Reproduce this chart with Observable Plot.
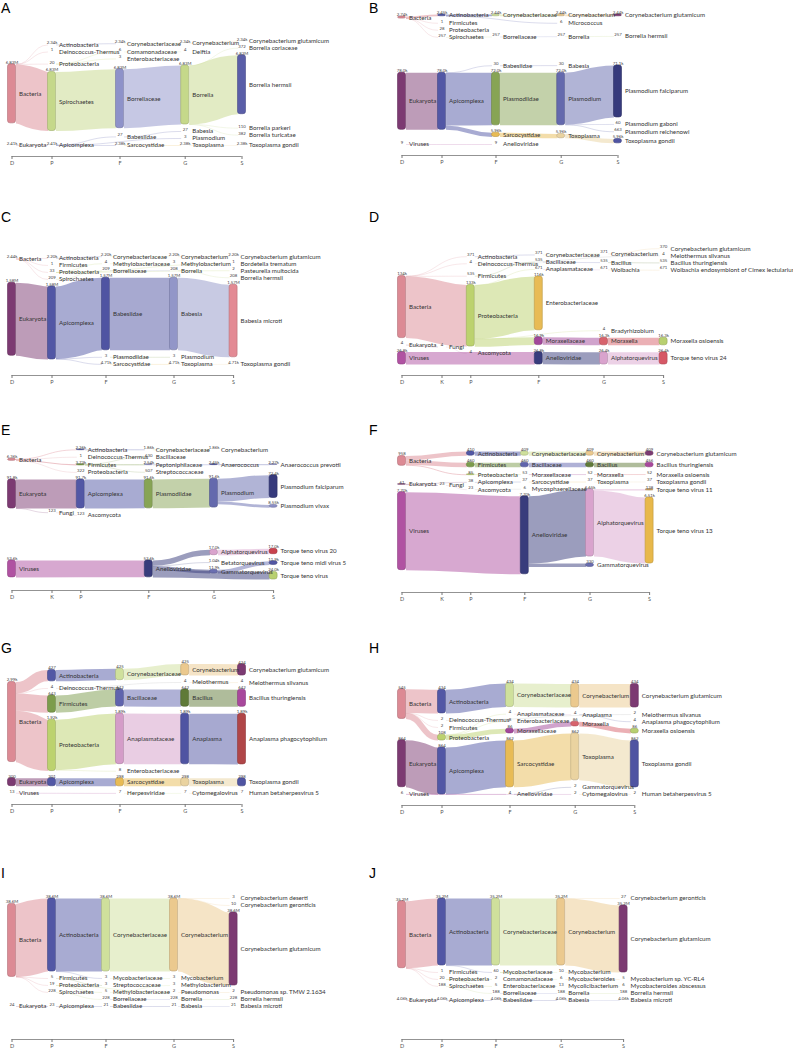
<!DOCTYPE html>
<html><head><meta charset="utf-8">
<script src="https://cdn.jsdelivr.net/npm/d3@7"></script>
<script src="https://cdn.jsdelivr.net/npm/@observablehq/plot@0.6"></script>
<style>
body{margin:0;background:#fff;}
#page{position:relative;width:793px;height:1049px;overflow:hidden;}
.letter{position:absolute;font-family:"Liberation Sans",Arial,sans-serif;font-size:14px;line-height:14px;color:#000;}
.panel{position:absolute;}
</style></head><body><div id="page"></div>
<script>
// ---------- DATA: [name, rank, reads, parent] ----------
const ranks5 = ["D","P","F","G","S"];
const ranks6 = ["D","K","P","F","G","S"];

const panelA = [
 ["Bacteria","D",6830000,null],["Eukaryota","D",2410,null],
 ["Actinobacteria","P",2340,"Bacteria"],["Deinococcus-Thermus","P",1,"Bacteria"],["Proteobacteria","P",20,"Bacteria"],["Spirochaetes","P",6830000,"Bacteria"],["Apicomplexa","P",2410,"Eukaryota"],
 ["Corynebacteriaceae","F",2340,"Actinobacteria"],["Comamonadaceae","F",6,"Proteobacteria"],["Enterobacteriaceae","F",3,"Proteobacteria"],["Borreliaceae","F",6830000,"Spirochaetes"],["Babesiidae","F",27,"Apicomplexa"],["Sarcocystidae","F",2380,"Apicomplexa"],
 ["Corynebacterium","G",2340,"Corynebacteriaceae"],["Delftia","G",4,"Comamonadaceae"],["Borrelia","G",6830000,"Borreliaceae"],["Babesia","G",27,"Babesiidae"],["Plasmodium","G",3,"Apicomplexa"],["Toxoplasma","G",2380,"Sarcocystidae"],
 ["Corynebacterium glutamicum","S",2340,"Corynebacterium"],["Borrelia coriaceae","S",372,"Borrelia"],["Borrelia hermsii","S",6830000,"Borrelia"],["Borrelia parkeri","S",110,"Borrelia"],["Borrelia turicatae","S",382,"Borrelia"],["Toxoplasma gondii","S",2380,"Toxoplasma"]
];
const panelB = [
 ["Bacteria","D",2740,null],["Eukaryota","D",78000,null],["Viruses","D",9,null],
 ["Actinobacteria","P",2450,"Bacteria"],["Firmicutes","P",1,"Bacteria"],["Proteobacteria","P",28,"Bacteria"],["Spirochaetes","P",257,"Bacteria"],["Apicomplexa","P",78000,"Eukaryota"],
 ["Corynebacteriaceae","F",2440,"Actinobacteria"],["Borreliaceae","F",257,"Spirochaetes"],["Babesiidae","F",30,"Apicomplexa"],["Plasmodiidae","F",72000,"Apicomplexa"],["Sarcocystidae","F",5960,"Apicomplexa"],["Anelloviridae","F",9,"Viruses"],
 ["Corynebacterium","G",2440,"Corynebacteriaceae"],["Micrococcus","G",6,"Actinobacteria"],["Borrelia","G",257,"Borreliaceae"],["Babesia","G",30,"Babesiidae"],["Plasmodium","G",72000,"Plasmodiidae"],["Toxoplasma","G",5960,"Sarcocystidae"],
 ["Corynebacterium glutamicum","S",2440,"Corynebacterium"],["Borrelia hermsii","S",257,"Borrelia"],["Plasmodium falciparum","S",71100,"Plasmodium"],["Plasmodium gaboni","S",60,"Plasmodium"],["Plasmodium reichenowi","S",663,"Plasmodium"],["Toxoplasma gondii","S",5960,"Toxoplasma"]
];
const panelC = [
 ["Bacteria","D",2440,null],["Eukaryota","D",1580000,null],
 ["Actinobacteria","P",2200,"Bacteria"],["Firmicutes","P",1,"Bacteria"],["Proteobacteria","P",33,"Bacteria"],["Spirochaetes","P",209,"Bacteria"],["Apicomplexa","P",1580000,"Eukaryota"],
 ["Corynebacteriaceae","F",2200,"Actinobacteria"],["Methylobacteriaceae","F",4,"Proteobacteria"],["Borreliaceae","F",209,"Spirochaetes"],["Babesiidae","F",1570000,"Apicomplexa"],["Plasmodiidae","F",3,"Apicomplexa"],["Sarcocystidae","F",4710,"Apicomplexa"],
 ["Corynebacterium","G",2200,"Corynebacteriaceae"],["Methylobacterium","G",3,"Methylobacteriaceae"],["Borrelia","G",208,"Borreliaceae"],["Babesia","G",1570000,"Babesiidae"],["Plasmodium","G",3,"Plasmodiidae"],["Toxoplasma","G",4710,"Sarcocystidae"],
 ["Corynebacterium glutamicum","S",2200,"Corynebacterium"],["Bordetella trematum","S",1,"Proteobacteria"],["Pasteurella multocida","S",2,"Proteobacteria"],["Borrelia hermsii","S",208,"Borrelia"],["Babesia microti","S",1570000,"Babesia"],["Toxoplasma gondii","S",4710,"Toxoplasma"]
];
const panelD = [
 ["Bacteria","D",134000,null],["Eukaryota","D",4,null],["Viruses","D",26800,null],
 ["Fungi","K",4,"Eukaryota"],
 ["Actinobacteria","P",371,"Bacteria"],["Deinococcus-Thermus","P",4,"Bacteria"],["Firmicutes","P",535,"Bacteria"],["Proteobacteria","P",133000,"Bacteria"],["Ascomycota","P",4,"Fungi"],
 ["Corynebacteriaceae","F",371,"Actinobacteria"],["Bacillaceae","F",535,"Firmicutes"],["Anaplasmataceae","F",671,"Proteobacteria"],["Enterobacteriaceae","F",116000,"Proteobacteria"],["Moraxellaceae","F",16900,"Proteobacteria"],["Anelloviridae","F",26800,"Viruses"],
 ["Corynebacterium","G",371,"Corynebacteriaceae"],["Bacillus","G",535,"Bacillaceae"],["Wolbachia","G",671,"Anaplasmataceae"],["Bradyrhizobium","G",4,"Proteobacteria"],["Moraxella","G",16300,"Moraxellaceae"],["Alphatorquevirus","G",26400,"Anelloviridae"],
 ["Corynebacterium glutamicum","S",370,"Corynebacterium"],["Meiothermus silvanus","S",4,"Deinococcus-Thermus"],["Bacillus thuringiensis","S",535,"Bacillus"],["Wolbachia endosymbiont of Cimex lectularius","S",671,"Wolbachia"],["Moraxella osloensis","S",16300,"Moraxella"],["Torque teno virus 24","S",26400,"Alphatorquevirus"]
];
const panelE = [
 ["Bacteria","D",6360,null],["Eukaryota","D",91800,null],["Viruses","D",53600,null],
 ["Fungi","K",123,"Eukaryota"],
 ["Actinobacteria","P",2260,"Bacteria"],["Deinococcus-Thermus","P",1,"Bacteria"],["Firmicutes","P",3730,"Bacteria"],["Proteobacteria","P",322,"Bacteria"],["Apicomplexa","P",91700,"Eukaryota"],["Ascomycota","P",123,"Fungi"],
 ["Corynebacteriaceae","F",1860,"Actinobacteria"],["Bacillaceae","F",630,"Firmicutes"],["Peptoniphilaceae","F",2540,"Firmicutes"],["Streptococcaceae","F",507,"Firmicutes"],["Plasmodiidae","F",91600,"Apicomplexa"],["Anelloviridae","F",53600,"Viruses"],
 ["Corynebacterium","G",1860,"Corynebacteriaceae"],["Anaerococcus","G",2450,"Peptoniphilaceae"],["Plasmodium","G",91600,"Plasmodiidae"],["Alphatorquevirus","G",17000,"Anelloviridae"],["Betatorquevirus","G",1040,"Anelloviridae"],["Gammatorquevirus","G",11900,"Anelloviridae"],
 ["Anaerococcus prevotii","S",2270,"Anaerococcus"],["Plasmodium falciparum","S",72400,"Plasmodium"],["Plasmodium vivax","S",8550,"Plasmodium"],["Torque teno virus 20","S",17000,"Alphatorquevirus"],["Torque teno midi virus 5","S",11900,"Gammatorquevirus"],["Torque teno virus","S",24000,"Anelloviridae"]
];
const panelF = [
 ["Bacteria","D",958,null],["Eukaryota","D",61,null],["Viruses","D",7700,null],
 ["Fungi","K",23,"Eukaryota"],
 ["Actinobacteria","P",410,"Bacteria"],["Firmicutes","P",460,"Bacteria"],["Proteobacteria","P",85,"Bacteria"],["Apicomplexa","P",38,"Eukaryota"],["Ascomycota","P",23,"Fungi"],
 ["Corynebacteriaceae","F",409,"Actinobacteria"],["Bacillaceae","F",460,"Firmicutes"],["Moraxellaceae","F",53,"Proteobacteria"],["Sarcocystidae","F",37,"Apicomplexa"],["Mycosphaerellaceae","F",6,"Ascomycota"],["Anelloviridae","F",7700,"Viruses"],
 ["Corynebacterium","G",409,"Corynebacteriaceae"],["Bacillus","G",460,"Bacillaceae"],["Moraxella","G",52,"Moraxellaceae"],["Toxoplasma","G",37,"Sarcocystidae"],["Alphatorquevirus","G",6650,"Anelloviridae"],["Gammatorquevirus","G",330,"Anelloviridae"],
 ["Corynebacterium glutamicum","S",409,"Corynebacterium"],["Bacillus thuringiensis","S",456,"Bacillus"],["Moraxella osloensis","S",52,"Moraxella"],["Toxoplasma gondii","S",37,"Toxoplasma"],["Torque teno virus 11","S",138,"Alphatorquevirus"],["Torque teno virus 13","S",6510,"Alphatorquevirus"]
];
const panelG = [
 ["Bacteria","D",2990,null],["Eukaryota","D",300,null],["Viruses","D",13,null],
 ["Actinobacteria","P",427,"Bacteria"],["Deinococcus-Thermus","P",4,"Bacteria"],["Firmicutes","P",643,"Bacteria"],["Proteobacteria","P",1920,"Bacteria"],["Apicomplexa","P",301,"Eukaryota"],
 ["Corynebacteriaceae","F",425,"Actinobacteria"],["Bacillaceae","F",642,"Firmicutes"],["Anaplasmataceae","F",1890,"Proteobacteria"],["Enterobacteriaceae","F",8,"Proteobacteria"],["Sarcocystidae","F",298,"Apicomplexa"],["Herpesviridae","F",7,"Viruses"],
 ["Corynebacterium","G",425,"Corynebacteriaceae"],["Meiothermus","G",4,"Deinococcus-Thermus"],["Bacillus","G",642,"Bacillaceae"],["Anaplasma","G",1890,"Anaplasmataceae"],["Toxoplasma","G",298,"Sarcocystidae"],["Cytomegalovirus","G",7,"Herpesviridae"],
 ["Corynebacterium glutamicum","S",424,"Corynebacterium"],["Meiothermus silvanus","S",4,"Meiothermus"],["Bacillus thuringiensis","S",642,"Bacillus"],["Anaplasma phagocytophilum","S",1890,"Anaplasma"],["Toxoplasma gondii","S",298,"Toxoplasma"],["Human betaherpesvirus 5","S",7,"Cytomegalovirus"]
];
const panelH = [
 ["Bacteria","D",545,null],["Eukaryota","D",864,null],["Viruses","D",6,null],
 ["Actinobacteria","P",434,"Bacteria"],["Deinococcus-Thermus","P",2,"Bacteria"],["Firmicutes","P",2,"Bacteria"],["Proteobacteria","P",108,"Bacteria"],["Apicomplexa","P",864,"Eukaryota"],
 ["Corynebacteriaceae","F",434,"Actinobacteria"],["Anaplasmataceae","F",4,"Proteobacteria"],["Enterobacteriaceae","F",8,"Proteobacteria"],["Moraxellaceae","F",86,"Proteobacteria"],["Sarcocystidae","F",862,"Apicomplexa"],["Anelloviridae","F",4,"Viruses"],
 ["Corynebacterium","G",434,"Corynebacteriaceae"],["Anaplasma","G",4,"Anaplasmataceae"],["Moraxella","G",86,"Moraxellaceae"],["Toxoplasma","G",862,"Sarcocystidae"],["Gammatorquevirus","G",2,"Anelloviridae"],["Cytomegalovirus","G",2,"Viruses"],
 ["Corynebacterium glutamicum","S",434,"Corynebacterium"],["Meiothermus silvanus","S",2,"Deinococcus-Thermus"],["Anaplasma phagocytophilum","S",4,"Anaplasma"],["Moraxella osloensis","S",86,"Moraxella"],["Toxoplasma gondii","S",862,"Toxoplasma"],["Human betaherpesvirus 5","S",2,"Cytomegalovirus"]
];
const panelI = [
 ["Bacteria","D",38600000,null],["Eukaryota","D",24,null],
 ["Actinobacteria","P",38600000,"Bacteria"],["Firmicutes","P",5,"Bacteria"],["Proteobacteria","P",19,"Bacteria"],["Spirochaetes","P",228,"Bacteria"],["Apicomplexa","P",23,"Eukaryota"],
 ["Corynebacteriaceae","F",38600000,"Actinobacteria"],["Mycobacteriaceae","F",3,"Actinobacteria"],["Streptococcaceae","F",3,"Firmicutes"],["Methylobacteriaceae","F",5,"Proteobacteria"],["Borreliaceae","F",228,"Spirochaetes"],["Babesiidae","F",21,"Apicomplexa"],
 ["Corynebacterium","G",38600000,"Corynebacteriaceae"],["Mycobacterium","G",3,"Mycobacteriaceae"],["Methylobacterium","G",3,"Methylobacteriaceae"],["Pseudomonas","G",2,"Proteobacteria"],["Borrelia","G",228,"Borreliaceae"],["Babesia","G",21,"Babesiidae"],
 ["Corynebacterium deserti","S",3,"Corynebacterium"],["Corynebacterium geronticis","S",10,"Corynebacterium"],["Corynebacterium glutamicum","S",38600000,"Corynebacterium"],["Pseudomonas sp. TMW 2.1634","S",2,"Pseudomonas"],["Borrelia hermsii","S",228,"Borrelia"],["Babesia microti","S",21,"Babesia"]
];
const panelJ = [
 ["Bacteria","D",35200000,null],["Eukaryota","D",4060,null],
 ["Actinobacteria","P",35200000,"Bacteria"],["Firmicutes","P",1,"Bacteria"],["Proteobacteria","P",20,"Bacteria"],["Spirochaetes","P",188,"Bacteria"],["Apicomplexa","P",4060,"Eukaryota"],
 ["Corynebacteriaceae","F",35200000,"Actinobacteria"],["Mycobacteriaceae","F",60,"Actinobacteria"],["Comamonadaceae","F",2,"Proteobacteria"],["Enterobacteriaceae","F",5,"Proteobacteria"],["Borreliaceae","F",188,"Spirochaetes"],["Babesiidae","F",4060,"Apicomplexa"],
 ["Corynebacterium","G",35200000,"Corynebacteriaceae"],["Mycobacterium","G",10,"Mycobacteriaceae"],["Mycobacteroides","G",6,"Mycobacteriaceae"],["Mycolicibacterium","G",13,"Mycobacteriaceae"],["Borrelia","G",188,"Borreliaceae"],["Babesia","G",4060,"Babesiidae"],
 ["Corynebacterium geronticis","S",27,"Corynebacterium"],["Corynebacterium glutamicum","S",35200000,"Corynebacterium"],["Mycobacterium sp. YC-RL4","S",5,"Mycobacterium"],["Mycobacteroides abscessus","S",6,"Mycobacteroides"],["Borrelia hermsii","S",188,"Borrelia"],["Babesia microti","S",4060,"Babesia"]
];

// ---------- STYLE ----------
const nodeColors = {
 "Bacteria":"#dc8a94","Eukaryota":"#7c3a72","Viruses":"#b052a2","Fungi":"#c9a0c0",
 "Actinobacteria":"#5257a5","Deinococcus-Thermus":"#a8a8a8","Firmicutes":"#7c9c4c","Proteobacteria":"#bcd26e","Spirochaetes":"#c5d88a","Apicomplexa":"#5257a5","Ascomycota":"#bbbbbb",
 "Corynebacteriaceae":"#cfe09c","Comamonadaceae":"#cfe09c","Enterobacteriaceae":"#e8bb55","Borreliaceae":"#8e92c9","Babesiidae":"#4f54a2","Sarcocystidae":"#e8bb55","Plasmodiidae":"#87a455","Anelloviridae":"#383c7c","Methylobacteriaceae":"#cfe09c","Bacillaceae":"#5f64ad","Anaplasmataceae":"#d49cc8","Moraxellaceae":"#a2479a","Peptoniphilaceae":"#8e92c9","Streptococcaceae":"#cfe09c","Mycosphaerellaceae":"#cfe09c","Herpesviridae":"#cfe09c","Mycobacteriaceae":"#cfe09c",
 "Corynebacterium":"#ebc98e","Delftia":"#ebc98e","Borrelia":"#c5d88a","Babesia":"#9296c8","Plasmodium":"#6469ad","Toxoplasma":"#ead3a0","Micrococcus":"#ebc98e","Methylobacterium":"#ebc98e","Bacillus":"#5f7a38","Wolbachia":"#ebc98e","Bradyrhizobium":"#ebc98e","Moraxella":"#d7626c","Alphatorquevirus":"#d9a3cd","Betatorquevirus":"#8e92c9","Gammatorquevirus":"#6a6eb0","Anaerococcus":"#4f54a2","Anaplasma":"#4f54a2","Meiothermus":"#ebc98e","Cytomegalovirus":"#ebc98e","Mycobacterium":"#ebc98e","Mycobacteroides":"#ebc98e","Mycolicibacterium":"#ebc98e","Pseudomonas":"#ebc98e",
 "Corynebacterium glutamicum":"#7c3a72","Borrelia hermsii":"#5a5ea8","Toxoplasma gondii":"#4f54a2","Plasmodium falciparum":"#363a7c","Plasmodium vivax":"#8c90c8","Babesia microti":"#e38a94","Bacillus thuringiensis":"#a8489c","Moraxella osloensis":"#b8d070","Torque teno virus 24":"#d65866","Torque teno virus 20":"#c8424e","Torque teno midi virus 5":"#5257a5","Torque teno virus":"#b8d070","Torque teno virus 13":"#e8b84a","Torque teno virus 11":"#c9a060","Anaplasma phagocytophilum":"#b04648","Anaerococcus prevotii":"#8e92c9","Wolbachia endosymbiont of Cimex lectularius":"#cfe09c"
};
const colorOf = name => nodeColors[name] || "#aaaaaa";

// layout: "relax" = link-top relaxation; "down"/"up" = centre relaxation with top- or bottom-first collision passes
const panels = [
 {letter:"A", rows:panelA, ranks:ranks5, left:0,   axisY:156,  band:59, letterTop:1,   layout:"relax"},
 {letter:"B", rows:panelB, ranks:ranks5, left:390, axisY:155,  band:57, letterTop:1,   layout:"relax"},
 {letter:"C", rows:panelC, ranks:ranks5, left:0,   axisY:375,  band:73, letterTop:210, layout:"down"},
 {letter:"D", rows:panelD, ranks:ranks6, left:390, axisY:375,  band:62, letterTop:210, layout:"relax"},
 {letter:"E", rows:panelE, ranks:ranks6, left:0,   axisY:590,  band:29, letterTop:423, layout:"relax"},
 {letter:"F", rows:panelF, ranks:ranks6, left:390, axisY:592,  band:78, letterTop:423, layout:"up"},
 {letter:"G", rows:panelG, ranks:ranks5, left:0,   axisY:804,  band:80, letterTop:641, layout:"relax"},
 {letter:"H", rows:panelH, ranks:ranks5, left:390, axisY:805,  band:47, letterTop:641, layout:"down"},
 {letter:"I", rows:panelI, ranks:ranks5, left:0,   axisY:1039, band:73, letterTop:866, layout:"up"},
 {letter:"J", rows:panelJ, ranks:ranks5, left:390, axisY:1039, band:67, letterTop:866, layout:"up"}
];

const fmtValue = v => v >= 1000 ? d3.format(".3s")(v) : String(v);

// ---------- SANKEY LAYOUT ----------
function sankeyLayout(rows, ranks, ky, mode) {
  const NW = 8, PY = 7, Y0 = 0, Y1 = 130, X0 = 7.5, ITER = 32;
  const nodes = rows.map(([name, rank, value, parent]) => ({name, rank, value, parent, layer: ranks.indexOf(rank), sourceLinks: [], targetLinks: []}));
  const byName = new Map(nodes.map(n => [n.name, n]));
  const links = [];
  for (const n of nodes) {
    if (n.parent == null) continue;
    const s = byName.get(n.parent);
    const l = {source: s, target: n, value: n.value, width: n.value * ky};
    s.sourceLinks.push(l); n.targetLinks.push(l); links.push(l);
  }
  const columns = ranks.map((r, i) => nodes.filter(n => n.layer === i));
  let x = X0;
  for (const col of columns) {
    for (const n of col) { n.x0 = x; n.x1 = x + NW; }
    x += 14.8 + 2.8 * d3.max(col, n => n.name.length);
  }
  const shift = (n, d) => { n.y0 += d; n.y1 += d; };
  const center = n => (n.y0 + n.y1) / 2;

  if (mode === "down" || mode === "up") {
    for (const col of columns) col.forEach((n, i) => { n.y0 = i; n.y1 = i + n.value * ky; });
    const pushDown = col => {
      let y0 = Y0;
      for (const n of col) { const d = y0 - n.y0; if (d > 0) shift(n, d); y0 = n.y1 + PY; }
    };
    const pushUp = col => {
      let y1 = Y1;
      for (let i = col.length - 1; i >= 0; --i) { const n = col[i]; const d = n.y1 - y1; if (d > 0) shift(n, -d); y1 = n.y0 - PY; }
    };
    const resolveAll = () => {
      for (const col of columns) {
        if (mode === "down") { pushDown(col); if (col[col.length - 1].y1 > Y1) pushUp(col); }
        else { pushUp(col); if (col[0].y0 < Y0) pushDown(col); }
      }
    };
    resolveAll();
    let alpha = 1;
    for (let it = 0; it < ITER; ++it) {
      alpha *= 0.99;
      for (let c = columns.length - 1; c >= 0; --c) for (const n of columns[c]) {
        if (!n.sourceLinks.length) continue;
        const y = d3.sum(n.sourceLinks, l => center(l.target) * l.value) / d3.sum(n.sourceLinks, l => l.value);
        shift(n, (y - center(n)) * alpha);
      }
      resolveAll();
      for (let c = 0; c < columns.length; ++c) for (const n of columns[c]) {
        if (!n.targetLinks.length) continue;
        const y = d3.sum(n.targetLinks, l => center(l.source) * l.value) / d3.sum(n.targetLinks, l => l.value);
        shift(n, (y - center(n)) * alpha);
      }
      resolveAll();
    }
  } else {
    for (const col of columns) {
      let y = Y0;
      for (const n of col) { n.y0 = y; n.y1 = y + n.value * ky; y = n.y1 + PY; }
      const extra = (Y1 - y + PY) / (col.length + 1);
      col.forEach((n, i) => shift(n, extra * (i + 1)));
    }
    const reorderNodeLinks = n => {
      for (const l of n.targetLinks) l.source.sourceLinks.sort((a, b) => a.target.y0 - b.target.y0);
      for (const l of n.sourceLinks) l.target.targetLinks.sort((a, b) => a.source.y0 - b.source.y0);
    };
    const targetTop = (source, target) => {
      let y = source.y0 - (source.sourceLinks.length - 1) * PY / 2;
      for (const {target: node, width} of source.sourceLinks) { if (node === target) break; y += width + PY; }
      for (const {source: node, width} of target.targetLinks) { if (node === source) break; y -= width; }
      return y;
    };
    const sourceTop = (source, target) => {
      let y = target.y0 - (target.targetLinks.length - 1) * PY / 2;
      for (const {source: node, width} of target.targetLinks) { if (node === source) break; y += width + PY; }
      for (const {target: node, width} of source.sourceLinks) { if (node === target) break; y -= width; }
      return y;
    };
    const collideDown = (col, y, i, a) => { for (; i < col.length; ++i) { const n = col[i]; const dy = (y - n.y0) * a; if (dy > 1e-6) shift(n, dy); y = n.y1 + PY; } };
    const collideUp = (col, y, i, a) => { for (; i >= 0; --i) { const n = col[i]; const dy = (n.y1 - y) * a; if (dy > 1e-6) shift(n, -dy); y = n.y0 - PY; } };
    const resolve = (col, a) => {
      const i = col.length >> 1, s = col[i];
      collideUp(col, s.y0 - PY, i - 1, a);
      collideDown(col, s.y1 + PY, i + 1, a);
      collideUp(col, Y1, col.length - 1, a);
      collideDown(col, Y0, 0, a);
    };
    for (let it = 0; it < ITER; ++it) {
      const alpha = Math.pow(0.99, it), beta = Math.max(1 - alpha, (it + 1) / ITER);
      for (let i = columns.length - 2; i >= 0; --i) {
        for (const s of columns[i]) {
          let y = 0, w = 0;
          for (const l of s.sourceLinks) { const v = l.value * (l.target.layer - s.layer); y += sourceTop(s, l.target) * v; w += v; }
          if (!(w > 0)) continue;
          shift(s, (y / w - s.y0) * alpha); reorderNodeLinks(s);
        }
        resolve(columns[i], beta);
      }
      for (let i = 1; i < columns.length; ++i) {
        for (const t of columns[i]) {
          let y = 0, w = 0;
          for (const l of t.targetLinks) { const v = l.value * (t.layer - l.source.layer); y += targetTop(l.source, t) * v; w += v; }
          if (!(w > 0)) continue;
          shift(t, (y / w - t.y0) * alpha); reorderNodeLinks(t);
        }
        resolve(columns[i], beta);
      }
    }
  }
  for (const n of nodes) {
    n.sourceLinks.sort((a, b) => a.target.y0 - b.target.y0);
    n.targetLinks.sort((a, b) => a.source.y0 - b.source.y0);
  }
  for (const n of nodes) {
    let a = n.y0, b = n.y0;
    for (const l of n.sourceLinks) { l.y0 = a + l.width / 2; a += l.width; }
    for (const l of n.targetLinks) { l.y1 = b + l.width / 2; b += l.width; }
  }
  return {nodes, links, columns};
}

// ---------- DRAW ----------
const page = document.getElementById("page");
for (const p of panels) {
  const ky = p.band / d3.max(p.rows, r => r[2]);
  const {nodes, links, columns} = sankeyLayout(p.rows, p.ranks, ky, p.layout);
  const ticks = columns.map(c => (c[0].x0 + c[0].x1) / 2);
  const tickName = new Map(ticks.map((t, i) => [t, p.ranks[i]]));
  const W = 403, H = 168;
  const chart = Plot.plot({
    width: W, height: H,
    marginTop: 0, marginRight: 0, marginLeft: 0, marginBottom: H - 155,
    x: {domain: [0, W], range: [0, W]},
    y: {domain: [-14, 141], range: [0, 155], axis: null},
    color: {type: "identity"},
    style: {fontFamily: "Lato, 'Noto Sans', sans-serif", background: "transparent", color: "#555", overflow: "visible"},
    marks: [
      Plot.link(links, {x1: l => l.source.x1, y1: l => l.y0, x2: l => l.target.x0, y2: l => l.y1, curve: "bump-x",
        stroke: l => colorOf(l.source.name), strokeOpacity: 0.5, strokeWidth: l => Math.max(0.4, l.width)}),
      Plot.rect(nodes.filter(n => n.y1 - n.y0 > 0.6), {x1: "x0", x2: "x1", y1: "y0", y2: "y1",
        fill: n => colorOf(n.name), stroke: n => d3.color(colorOf(n.name)).darker(0.6).formatHex(), strokeWidth: 0.6, rx: 2.5}),
      Plot.text(nodes, {x: n => n.x1 + 3, y: n => (n.y0 + n.y1) / 2, text: "name", textAnchor: "start", fontSize: 6.2, fill: "#333"}),
      Plot.text(nodes, {x: n => (n.x0 + n.x1) / 2, y: n => n.y0 - 0.6, text: n => fmtValue(n.value), lineAnchor: "bottom", fontSize: 4.3, fill: "#444"}),
      Plot.ruleY([141], {x1: ticks[0], x2: ticks[ticks.length - 1], stroke: "#777", strokeWidth: 0.8}),
      Plot.axisX(ticks, {tickFormat: t => tickName.get(t), tickSize: 3, tickPadding: 1.5, fontSize: 5.5, stroke: "#777", fill: "#555"})
    ]
  });
  const div = document.createElement("div");
  div.className = "panel";
  div.style.left = p.left + "px";
  div.style.top = (p.axisY - 155) + "px";
  div.appendChild(chart);
  page.appendChild(div);
  const lt = document.createElement("div");
  lt.className = "letter";
  lt.textContent = p.letter;
  lt.style.left = (p.left === 0 ? 1 : 369) + "px";
  lt.style.top = p.letterTop + "px";
  page.appendChild(lt);
}
</script></body></html>
